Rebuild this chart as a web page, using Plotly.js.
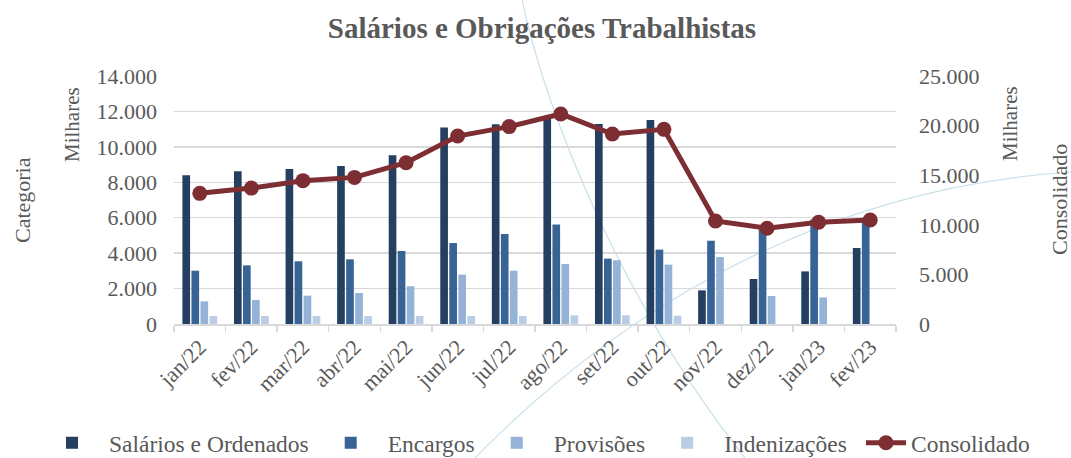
<!DOCTYPE html>
<html>
<head>
<meta charset="utf-8">
<script src="https://cdn.plot.ly/plotly-3.0.1.min.js"></script>
<style>html,body{margin:0;padding:0;background:#fff;}#chart{width:1071px;height:458px;}</style>
</head>
<body>
<div id="chart"></div>
<script>
const categories = ["jan/22","fev/22","mar/22","abr/22","mai/22","jun/22","jul/22","ago/22","set/22","out/22","nov/22","dez/22","jan/23","fev/23"];
const salarios = [8400, 8620, 8750, 8920, 9520, 11090, 11270, 11700, 11290, 11520, 1900, 2540, 2970, 4290];
const encargos = [3010, 3310, 3540, 3650, 4120, 4570, 5080, 5610, 3690, 4200, 4700, 5500, 5900, 6000];
const provisoes = [1280, 1360, 1600, 1750, 2130, 2790, 3010, 3390, 3600, 3350, 3780, 1580, 1500, null];
const indenizacoes = [450, 450, 450, 450, 450, 450, 450, 490, 490, 470, null, null, null, null];
const consolidado = [13170, 13700, 14450, 14780, 16260, 18950, 19900, 21170, 19150, 19620, 10380, 9650, 10250, 10480];

const FONT = "Liberation Serif, DejaVu Serif, serif";
const GREY = "#595959";

// plot area in pixels (for decoration conversion)
const PL = 174, PR = 896, PT = 76, PB = 324;
function px(x){ return +((x - PL) / (PR - PL)).toFixed(4); }
function py(y){ return +((PB - y) / (PB - PT)).toFixed(4); }
function curve(p0, c1, c2, p1){
  return "M" + px(p0[0]) + "," + py(p0[1]) + " C" + px(c1[0]) + "," + py(c1[1]) + " " +
         px(c2[0]) + "," + py(c2[1]) + " " + px(p1[0]) + "," + py(p1[1]);
}

const traces = [
  {type:"bar", name:"Salários e Ordenados", x:categories, y:salarios, marker:{color:"#253f60"}},
  {type:"bar", name:"Encargos", x:categories, y:encargos, marker:{color:"#386395"}},
  {type:"bar", name:"Provisões", x:categories, y:provisoes, marker:{color:"#95b3d7"}},
  {type:"bar", name:"Indenizações", x:categories, y:indenizacoes, marker:{color:"#b9cde5"}},
  {type:"scatter", mode:"lines+markers", name:"Consolidado", x:categories, y:consolidado, yaxis:"y2", legend:"legend2",
   line:{color:"#7d2e33", width:5}, marker:{color:"#7d2e33", size:15}}
];

const layout = {
  width:1071, height:458,
  margin:{l:PL, r:1071-PR, t:PT, b:458-PB, autoexpand:false},
  paper_bgcolor:"#ffffff", plot_bgcolor:"rgba(0,0,0,0)",
  separators:",.",
  font:{family:FONT, color:GREY, size:20},
  title:{text:"<b>Salários e Obrigações Trabalhistas</b>", font:{family:FONT, size:29, color:GREY}, x:0.506, xanchor:"center", y:0.94, yanchor:"middle", automargin:false},
  barmode:"group", bargap:0.3, bargroupgap:0.15,
  showlegend:true,
  legend:{orientation:"h", x:px(35), xanchor:"left", y:py(443), yanchor:"middle", font:{family:FONT, size:23.5, color:GREY}, itemwidth:64, traceorder:"normal", bgcolor:"rgba(0,0,0,0)"},
  legend2:{orientation:"h", x:px(861), xanchor:"left", y:py(443), yanchor:"middle", font:{family:FONT, size:23.5, color:GREY}, itemwidth:40, bgcolor:"rgba(0,0,0,0)"},
  xaxis:{type:"category", range:[-0.5, categories.length - 0.5], autorange:false, tickangle:-45, tickfont:{family:FONT, size:22, color:GREY}, automargin:false,
         showgrid:false, showline:true, linecolor:"#d9d9d9", linewidth:1.5,
         ticks:"outside", tickson:"boundaries", ticklen:6, tickcolor:"#d9d9d9", tickwidth:1.5, fixedrange:true},
  yaxis:{range:[0,14000], autorange:false, dtick:2000, tickformat:",d", showgrid:true, gridcolor:"#d9d9d9", gridwidth:1.5, automargin:false,
         zeroline:false, showline:false, tickfont:{family:FONT, size:22, color:GREY}, ticklabelstandoff:16, fixedrange:true},
  yaxis2:{range:[0,25000], autorange:false, dtick:5000, tickformat:",d", overlaying:"y", side:"right", showgrid:false, automargin:false,
          zeroline:false, showline:false, tickfont:{family:FONT, size:22, color:GREY}, ticklabelstandoff:22, fixedrange:true},
  shapes:[
    {type:"path", xref:"paper", yref:"paper", layer:"below", path:curve([522,0],[545,110],[620,300],[745,458]), line:{color:"#c9e0ea", width:1.2}},
    {type:"path", xref:"paper", yref:"paper", layer:"below", path:curve([475,458],[600,330],[800,190],[1071,172]), line:{color:"#c9e0ea", width:1.2}}
  ],
  annotations:[
    {text:"Categoria", xref:"paper", yref:"paper", x:px(22), y:py(200), textangle:-90, showarrow:false, xanchor:"center", yanchor:"middle", font:{family:FONT, size:22, color:GREY}},
    {text:"Milhares", xref:"paper", yref:"paper", x:px(72), y:py(124), textangle:-90, showarrow:false, xanchor:"center", yanchor:"middle", font:{family:FONT, size:21, color:GREY}},
    {text:"Milhares", xref:"paper", yref:"paper", x:px(1010), y:py(124), textangle:-90, showarrow:false, xanchor:"center", yanchor:"middle", font:{family:FONT, size:21, color:GREY}},
    {text:"Consolidado", xref:"paper", yref:"paper", x:px(1059), y:py(200), textangle:-90, showarrow:false, xanchor:"center", yanchor:"middle", font:{family:FONT, size:22, color:GREY}}
  ]
};

Plotly.newPlot("chart", traces, layout, {displayModeBar:false, staticPlot:true});
</script>
</body>
</html>
